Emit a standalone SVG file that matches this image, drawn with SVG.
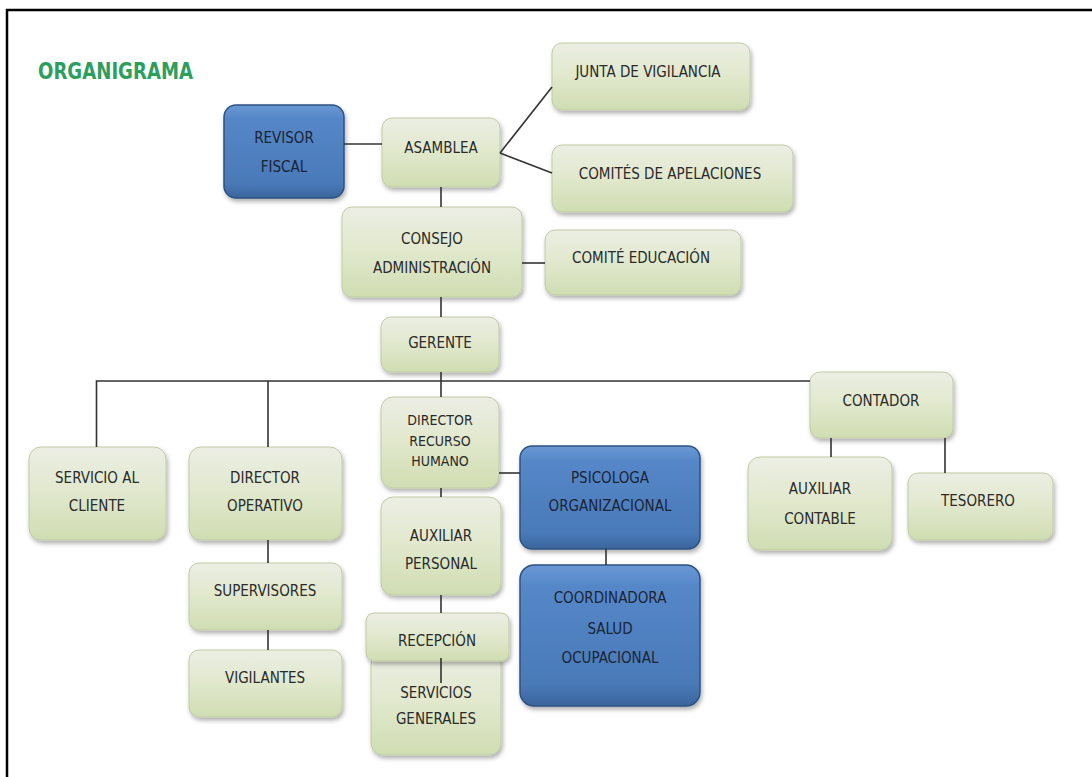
<svg xmlns="http://www.w3.org/2000/svg" width="1092" height="777" viewBox="0 0 1092 777">
<defs>
<linearGradient id="gGreen" x1="0" y1="0" x2="0" y2="1">
<stop offset="0" stop-color="#eceee4"/>
<stop offset="0.45" stop-color="#e2e9cf"/>
<stop offset="1" stop-color="#d0ddb2"/>
</linearGradient>
<linearGradient id="gBlue" x1="0" y1="0" x2="0" y2="1">
<stop offset="0" stop-color="#6a98d4"/>
<stop offset="0.15" stop-color="#5587c8"/>
<stop offset="0.85" stop-color="#4a79b8"/>
<stop offset="1" stop-color="#3a649c"/>
</linearGradient>
<filter id="sh" x="-10%" y="-10%" width="125%" height="130%">
<feDropShadow dx="1.5" dy="3" stdDeviation="2" flood-color="#000" flood-opacity="0.3"/>
</filter>
</defs>
<style>
.g{fill:url(#gGreen);stroke:#c0cba4;stroke-width:1;filter:url(#sh)}
.b{fill:url(#gBlue);stroke:#2d5282;stroke-width:1.5;filter:url(#sh)}
.t{font-family:"DejaVu Sans Condensed","DejaVu Sans",sans-serif;font-stretch:semi-condensed;font-size:15px;fill:#2a2a2a;text-anchor:middle}
.s{font-size:14px}
.tb{fill:#1a2535}
.c{stroke:#333;stroke-width:1.6;fill:none}
.title{font-family:"DejaVu Sans Condensed","DejaVu Sans",sans-serif;font-stretch:semi-condensed;font-weight:bold;font-size:23px;fill:#2e9e5e}
</style>
<rect width="1092" height="777" fill="#fff"/>
<path d="M7 777 V10 H1092" fill="none" stroke="#000" stroke-width="2.5"/>
<text class="title" x="38" y="79" textLength="155" lengthAdjust="spacingAndGlyphs">ORGANIGRAMA</text>

<g id="junta"><rect class="g" x="552" y="43" width="198" height="67" rx="10"/><text class="t" x="648" y="77">JUNTA DE VIGILANCIA</text></g>
<g id="revisor"><rect class="b" x="224" y="105" width="120" height="93" rx="12"/><text class="t tb" x="284" y="143">REVISOR</text><text class="t tb" x="284" y="172">FISCAL</text></g>
<g id="asamblea"><rect class="g" x="382" y="118" width="118" height="69" rx="10"/><text class="t" x="441" y="153">ASAMBLEA</text></g>
<g id="comites"><rect class="g" x="552" y="145" width="241" height="67" rx="10"/><text class="t" x="670" y="179">COMITÉS DE APELACIONES</text></g>
<g id="consejo"><rect class="g" x="342" y="207" width="180" height="90" rx="10"/><text class="t" x="432" y="244">CONSEJO</text><text class="t" x="432" y="273">ADMINISTRACIÓN</text></g>
<g id="comite-edu"><rect class="g" x="545" y="230" width="196" height="65" rx="10"/><text class="t" x="641" y="263">COMITÉ EDUCACIÓN</text></g>
<g id="gerente"><rect class="g" x="381" y="317" width="118" height="55" rx="10"/><text class="t" x="440" y="348">GERENTE</text></g>
<g id="servicio-cliente"><rect class="g" x="29" y="447" width="137" height="93" rx="12"/><text class="t" x="97" y="483">SERVICIO AL</text><text class="t" x="97" y="511">CLIENTE</text></g>
<g id="dir-operativo"><rect class="g" x="189" y="447" width="153" height="93" rx="12"/><text class="t" x="265" y="483">DIRECTOR</text><text class="t" x="265" y="511">OPERATIVO</text></g>
<g id="dir-rrhh"><rect class="g" x="381" y="397" width="118" height="91" rx="12"/><text class="t s" x="440" y="425">DIRECTOR</text><text class="t s" x="440" y="446">RECURSO</text><text class="t s" x="440" y="466">HUMANO</text></g>
<g id="psicologa"><rect class="b" x="520" y="446" width="180" height="103" rx="12"/><text class="t tb" x="610" y="483">PSICOLOGA</text><text class="t tb" x="610" y="511">ORGANIZACIONAL</text></g>
<g id="aux-personal"><rect class="g" x="381" y="497" width="120" height="98" rx="12"/><text class="t" x="441" y="541">AUXILIAR</text><text class="t" x="441" y="569">PERSONAL</text></g>
<g id="supervisores"><rect class="g" x="189" y="563" width="153" height="67" rx="10"/><text class="t" x="265" y="596">SUPERVISORES</text></g>
<g id="vigilantes"><rect class="g" x="189" y="650" width="153" height="67" rx="10"/><text class="t" x="265" y="683">VIGILANTES</text></g>
<g id="coordinadora"><rect class="b" x="520" y="565" width="180" height="141" rx="14"/><text class="t tb" x="610" y="603">COORDINADORA</text><text class="t tb" x="610" y="634">SALUD</text><text class="t tb" x="610" y="663">OCUPACIONAL</text></g>
<g id="servicios-generales"><rect class="g" x="371" y="652" width="130" height="103" rx="12"/><text class="t" x="436" y="698">SERVICIOS</text><text class="t" x="436" y="724">GENERALES</text></g>
<g id="recepcion"><rect class="g" x="366" y="613" width="143" height="48" rx="8"/><text class="t" x="437" y="646">RECEPCIÓN</text></g>
<g id="contador"><rect class="g" x="810" y="372" width="143" height="66" rx="10"/><text class="t" x="881" y="406">CONTADOR</text></g>
<g id="aux-contable"><rect class="g" x="748" y="457" width="144" height="93" rx="12"/><text class="t" x="820" y="494">AUXILIAR</text><text class="t" x="820" y="524">CONTABLE</text></g>
<g id="tesorero"><rect class="g" x="908" y="473" width="145" height="67" rx="10"/><text class="t" x="978" y="506">TESORERO</text></g>

<g id="connectors">
<path class="c" d="M344 144 H382"/>
<path class="c" d="M500 153 L552 87"/>
<path class="c" d="M500 153 L552 173"/>
<path class="c" d="M441 187 V207"/>
<path class="c" d="M522 263 H545"/>
<path class="c" d="M441 297 V317"/>
<path class="c" d="M441 372 V397"/>
<path class="c" d="M96.5 447 V381 H810"/>
<path class="c" d="M268 381 V447"/>
<path class="c" d="M499 473 H520"/>
<path class="c" d="M441 488 V497"/>
<path class="c" d="M606 549 V565"/>
<path class="c" d="M268 540 V563"/>
<path class="c" d="M268 630 V650"/>
<path class="c" d="M441 595 V613"/>
<path class="c" d="M441 658 V683"/>
<path class="c" d="M831 438 V457"/>
<path class="c" d="M945 438 V473"/>
</g>
</svg>
